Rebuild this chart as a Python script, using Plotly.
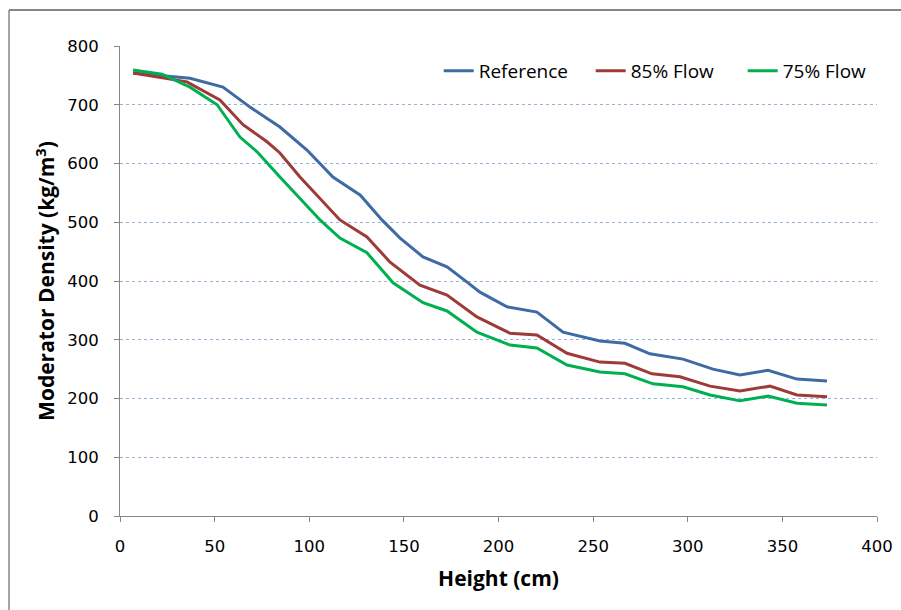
import plotly.graph_objects as go

ref_x = [6.9, 37.0, 54.4, 68.7, 84.5, 98.8, 112.5, 127.0, 138.4, 148.0, 160.1, 172.8, 183.4, 190.2, 204.5, 220.3, 234.1, 253.6, 266.8, 280.0, 297.5, 313.3, 327.6, 342.4, 357.7, 373.6]
ref_y = [754, 745, 730, 696, 662, 623, 577, 546, 504, 473, 441, 424, 398, 381, 356, 347, 313, 298, 294, 276, 267, 250, 240, 248, 233, 230]

f85_x = [6.9, 35.4, 52.8, 65.0, 77.7, 84.5, 95.1, 116.2, 130.5, 142.7, 158.5, 172.8, 188.6, 206.1, 220.3, 236.2, 253.6, 266.8, 281.1, 295.9, 311.8, 327.6, 343.4, 357.7, 373.6]
f85_y = [754, 739, 708, 666, 637, 618, 577, 504, 475, 432, 393, 376, 339, 311, 308, 277, 262, 260, 242, 237, 221, 213, 221, 206, 203]

f75_x = [6.9, 22.2, 37.0, 51.3, 63.4, 72.4, 84.5, 105.7, 116.2, 130.5, 144.3, 160.1, 172.8, 188.6, 206.1, 220.3, 236.2, 253.6, 266.8, 281.6, 297.5, 311.8, 327.6, 342.4, 357.7, 373.6]
f75_y = [759, 752, 730, 700, 645, 620, 577, 504, 473, 448, 397, 363, 349, 313, 291, 286, 257, 245, 242, 225, 220, 206, 196, 204, 192, 189]

names = ["Reference", "85% Flow", "75% Flow"]
colors = ["#3E6BA3", "#9E3B38", "#00B050"]

fig = go.Figure()
for xs, ys, n, c in [(ref_x, ref_y, names[0], colors[0]),
                     (f85_x, f85_y, names[1], colors[1]),
                     (f75_x, f75_y, names[2], colors[2])]:
    fig.add_trace(go.Scatter(x=xs, y=ys, name=n, mode="lines",
                             line=dict(color=c, width=3)))

axis_font = dict(family="DejaVu Sans", size=16.5, color="#000000")
title_font = dict(family="Open Sans", size=21, color="#000000")

fig.update_layout(
    width=901, height=610,
    margin=dict(l=120, r=24, t=46, b=94, autoexpand=False),
    paper_bgcolor="white", plot_bgcolor="white",
    showlegend=True,
    legend=dict(orientation="h", x=0.421, xanchor="left", y=0.947, yanchor="middle",
                font=dict(family="Open Sans", size=19, color="#000000"),
                bgcolor="rgba(0,0,0,0)", itemwidth=30, tracegroupgap=0,
                entrywidth=107, entrywidthmode="pixels"),
    xaxis=dict(range=[0, 400], tickvals=[0, 50, 100, 150, 200, 250, 300, 350, 400],
               showgrid=False, zeroline=False, showline=True, linecolor="#868686",
               linewidth=1, ticks="outside", ticklen=5, tickcolor="#868686",
               tickfont=axis_font, ticklabelstandoff=10,
               title=dict(text="<b>Height (cm)</b>", font=title_font, standoff=16)),
    yaxis=dict(range=[0, 800], tickvals=[0, 100, 200, 300, 400, 500, 600, 700, 800],
               showgrid=True, gridcolor="#95B3D7", griddash="dot", gridwidth=1,
               zeroline=False, showline=True, linecolor="#868686", linewidth=1,
               ticks="outside", ticklen=5, tickcolor="#868686",
               tickfont=axis_font, ticklabelstandoff=12,
               title=dict(text="<b>Moderator Density (kg/m<sup>3</sup>)</b>", font=title_font, standoff=6)),
    shapes=[
        dict(type="line", xref="paper", yref="paper", x0=-0.1466, x1=1.2, y0=1.0766, y1=1.0766,
             line=dict(color="#868686", width=2)),
        dict(type="line", xref="paper", yref="paper", x0=-0.1466, x1=-0.1466, y0=1.0766, y1=-0.5,
             line=dict(color="#868686", width=1.5)),
    ],
)

fig.write_html("out.html")
